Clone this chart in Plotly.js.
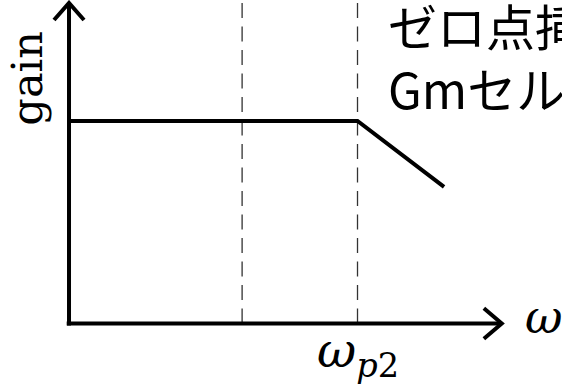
<!DOCTYPE html>
<html>
<head>
<meta charset="utf-8">
<script src="https://cdn.plot.ly/plotly-3.0.1.min.js"></script>
<style>html,body{margin:0;padding:0;background:#fff;}#chart{width:562px;height:387px;}</style>
</head>
<body>
<div id="chart"></div>
<script>
// ---- data (arbitrary frequency / gain units) ----
var omega = [0, 10, 13];          // breakpoints of the gain curve
var gain = [10, 10, 6.75];         // gain values at those breakpoints
var dashedX = [6, 10];             // vertical guide lines
var dashedTop = 15.83;
var xAxisEnd = 15;                 // end of ω axis (arrow tip)
var yAxisEnd = 15.83;              // end of gain axis (arrow tip)
var xLabel = "<i>ω</i>";
var yLabel = "gain";
var tickLabel = "<i>ω</i><sub><i>p</i>2</sub>";
var noteLines = ["ゼロ点挿入", "Gmセル"];

var traces = [];
// dashed guides
dashedX.forEach(function (xv) {
  traces.push({x: [xv, xv], y: [dashedTop, 0], mode: 'lines',
    line: {color: '#333', width: 1.3, dash: '15px,8.5px'}, hoverinfo: 'skip'});
});
// axes
traces.push({x: [-0.08, xAxisEnd], y: [0, 0], mode: 'lines',
  line: {color: '#000', width: 4}, hoverinfo: 'skip'});
traces.push({x: [0, 0], y: [-0.1, yAxisEnd], mode: 'lines',
  line: {color: '#000', width: 4}, hoverinfo: 'skip'});
// arrow heads (open chevrons)
var ahx = 0.62, ahy = 0.75;
traces.push({x: [xAxisEnd - ahx, xAxisEnd, xAxisEnd - ahx], y: [ahy, 0, -ahy], mode: 'lines',
  line: {color: '#000', width: 4}, hoverinfo: 'skip'});
var bhx = 0.52, bhy = 0.84;
traces.push({x: [-bhx, 0, bhx], y: [yAxisEnd - bhy, yAxisEnd, yAxisEnd - bhy], mode: 'lines',
  line: {color: '#000', width: 4}, hoverinfo: 'skip'});
// gain curve
traces.push({x: omega, y: gain, mode: 'lines',
  line: {color: '#000', width: 4}, hoverinfo: 'skip'});

var layout = {
  width: 562, height: 387,
  margin: {l: 0, r: 0, t: 0, b: 0},
  paper_bgcolor: '#fff', plot_bgcolor: '#fff',
  showlegend: false,
  xaxis: {range: [-2.392, 17.088], visible: false, fixedrange: true},
  yaxis: {range: [-3.136, 15.975], visible: false, fixedrange: true},
  annotations: [
    {x: -1.45, y: 12.1, text: yLabel, showarrow: false, textangle: -90,
     xanchor: 'center', yanchor: 'middle',
     font: {family: 'DejaVu Serif', size: 43, color: '#000'}},
    {x: 15.75, y: 0.3, text: xLabel, showarrow: false, xanchor: 'left', yanchor: 'middle',
     font: {family: 'DejaVu Serif', size: 46, color: '#000'}},
    {x: dashedX[1], y: -1.5, text: tickLabel, showarrow: false, xanchor: 'center', yanchor: 'middle',
     font: {family: 'DejaVu Serif', size: 48, color: '#000'}},
    {x: 10.97, y: 14.75, text: noteLines[0], showarrow: false, xanchor: 'left', yanchor: 'middle',
     font: {family: 'Noto Sans CJK JP', size: 49, color: '#000'}},
    {x: 10.97, y: 11.65, text: noteLines[1], showarrow: false, xanchor: 'left', yanchor: 'middle',
     font: {family: 'Noto Sans CJK JP', size: 49, color: '#000'}}
  ]
};

Plotly.newPlot('chart', traces, layout, {displayModeBar: false, staticPlot: true});
</script>
</body>
</html>
